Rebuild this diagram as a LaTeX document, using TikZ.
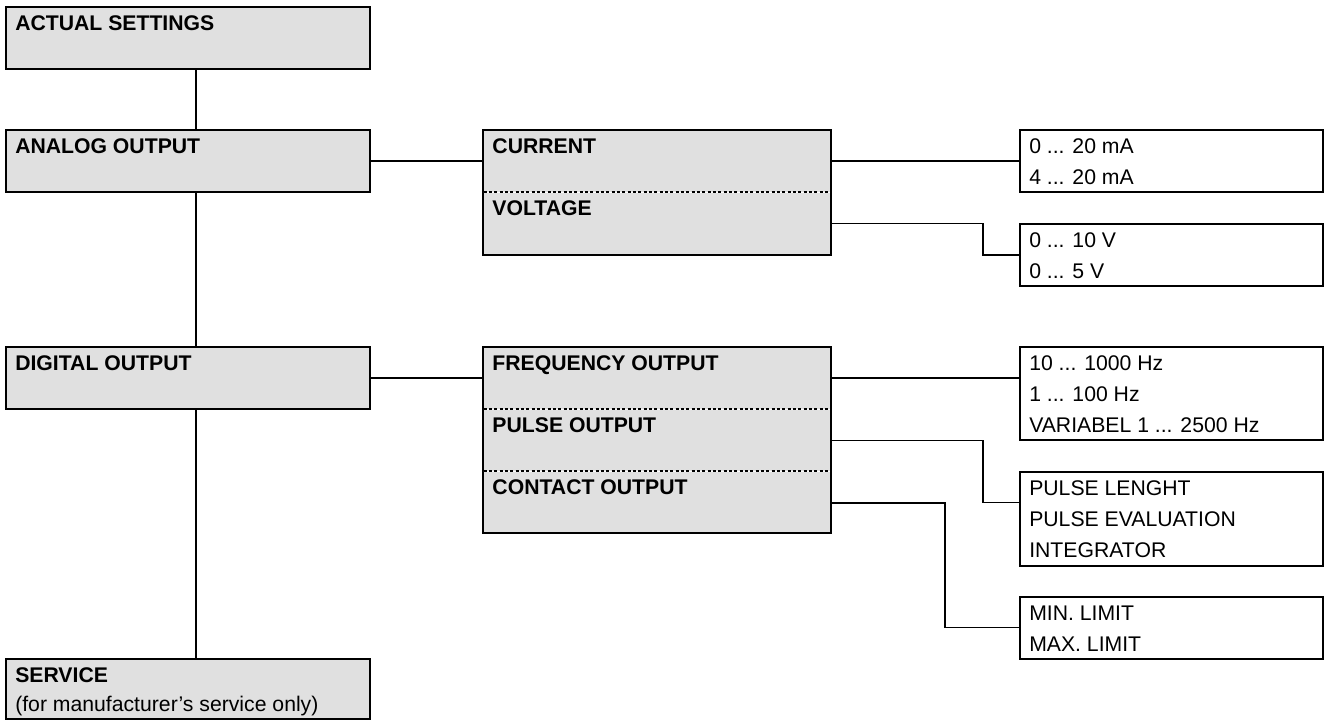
\documentclass[tikz,border=0pt]{standalone}
\usepackage{fontspec}
\setmainfont{Liberation Sans}
\usetikzlibrary{calc}
\definecolor{boxgray}{RGB}{224,224,224}

\begin{document}
\begin{tikzpicture}[x=0.75pt,y=-0.75pt,
  menu/.style={draw,line width=1.3pt,fill=boxgray,anchor=north west,inner sep=0pt,outer sep=0pt,minimum width=273.2pt},
  sub/.style={menu,minimum width=261.2pt},
  val/.style={draw,line width=1.3pt,fill=white,anchor=north west,inner sep=0pt,outer sep=0pt,minimum width=227pt},
  txt/.style={anchor=base west,inner sep=0pt,font=\fontsize{15.9}{18}\selectfont},
  hd/.style={txt,font=\fontsize{15.9}{18}\selectfont\bfseries},
  wire/.style={line width=1.1pt},
  sep/.style={line width=0.9pt,dash pattern=on 2.4pt off 1.6pt,preaction={draw=white,solid}}]
\useasboundingbox (0,0) rectangle (1325,720);

% ================= Main menu (left column) =================
\node[menu,minimum height=46.5pt] (act) at (5.7,7.3) {};
\node[menu,minimum height=46.5pt] (ana) at (5.7,130) {};
\node[menu,minimum height=46.5pt] (dig) at (5.7,347) {};
\node[menu,minimum height=44.6pt] (srv) at (5.7,659.3) {};
\node[hd] (act-t) at ($(act.north west)+(9.3,23.5)$) {ACTUAL SETTINGS};
\node[hd] (ana-t) at ($(ana.north west)+(9.3,23.5)$) {ANALOG OUTPUT};
\node[hd] (dig-t) at ($(dig.north west)+(9.3,23.5)$) {DIGITAL OUTPUT};
\node[hd] (srv-t) at ($(srv.north west)+(9.3,23)$) {SERVICE};
\node[txt] (srv-n) at ($(srv.north west)+(9.3,52)$) {(for manufacturer’s service only)};

% ================= Sub menus (middle column) =================
\node[sub,minimum height=93.75pt] (cv) at (482.7,130) {};
\draw[sep] ($(cv.north west)+(0.9,62)$) -- ($(cv.north east)+(-0.9,62)$);
\node[hd] (cur-t) at ($(cv.north west)+(9.5,23.3)$) {CURRENT};
\node[hd] (vlt-t) at ($(cv.north west)+(9.5,85.3)$) {VOLTAGE};

\node[sub,minimum height=139.7pt] (fp) at (482.7,347) {};
\draw[sep] ($(fp.north west)+(0.9,62)$) -- ($(fp.north east)+(-0.9,62)$);
\draw[sep] ($(fp.north west)+(0.9,124)$) -- ($(fp.north east)+(-0.9,124)$);
\node[hd] (frq-t) at ($(fp.north west)+(9.5,23.3)$) {FREQUENCY OUTPUT};
\node[hd] (pls-t) at ($(fp.north west)+(9.5,85.3)$) {PULSE OUTPUT};
\node[hd] (cnt-t) at ($(fp.north west)+(9.5,147.3)$) {CONTACT OUTPUT};

% ================= Value lists (right column) =================
\node[val,minimum height=46.3pt] (ma) at (1020,130) {};
\node[txt] (ma-1) at ($(ma.north west)+(9,23.3)$) {0 ... 20 mA};
\node[txt] (ma-2) at ($(ma.north west)+(9,54.3)$) {4 ... 20 mA};

\node[val,minimum height=46.3pt] (volt) at (1020,224) {};
\node[txt] (volt-1) at ($(volt.north west)+(9,23.3)$) {0 ... 10 V};
\node[txt] (volt-2) at ($(volt.north west)+(9,54.3)$) {0 ... 5 V};

\node[val,minimum height=69.75pt] (hz) at (1020,347) {};
\node[txt] (hz-1) at ($(hz.north west)+(9,23.3)$) {10 ... 1000 Hz};
\node[txt] (hz-2) at ($(hz.north west)+(9,54.3)$) {1 ... 100 Hz};
\node[txt] (hz-3) at ($(hz.north west)+(9,85.3)$) {VARIABEL 1 ... 2500 Hz};

\node[val,minimum height=70.5pt] (pls) at (1020,471.7) {};
\node[txt] (pls-1) at ($(pls.north west)+(9,23.3)$) {PULSE LENGHT};
\node[txt] (pls-2) at ($(pls.north west)+(9,54.3)$) {PULSE EVALUATION};
\node[txt] (pls-3) at ($(pls.north west)+(9,85.3)$) {INTEGRATOR};

\node[val,minimum height=46.7pt] (lim) at (1020,596.7) {};
\node[txt] (lim-1) at ($(lim.north west)+(9,23.3)$) {MIN. LIMIT};
\node[txt] (lim-2) at ($(lim.north west)+(9,54.3)$) {MAX. LIMIT};

% ================= Connectors =================
\draw[wire] ([xshift=6pt]act.south) -- ([xshift=6pt]ana.north);
\draw[wire] ([xshift=6pt]ana.south) -- ([xshift=6pt]dig.north);
\draw[wire] ([xshift=6pt]dig.south) -- ([xshift=6pt]srv.north);
\draw[wire] (ana.east) -- (ana.east -| cv.west);
\draw[wire] (dig.east) -- (dig.east -| fp.west);
\draw[wire] (ma.west -| cv.east) -- (ma.west);
\draw[wire] ($(cv.north east)+(0,93.3)$) -| ($(volt.north west)+(-37,31)$) -- ($(volt.north west)+(0,31)$);
\draw[wire] ($(fp.north east)+(0,31)$) -- ($(hz.north west)+(0,31)$);
\draw[wire] ($(fp.north east)+(0,93.3)$) -| ($(pls.north west)+(-37,31)$) -- ($(pls.north west)+(0,31)$);
\draw[wire] ($(fp.north east)+(0,156)$) -| ($(lim.north west)+(-75,31)$) -- ($(lim.north west)+(0,31)$);
\end{tikzpicture}
\end{document}
